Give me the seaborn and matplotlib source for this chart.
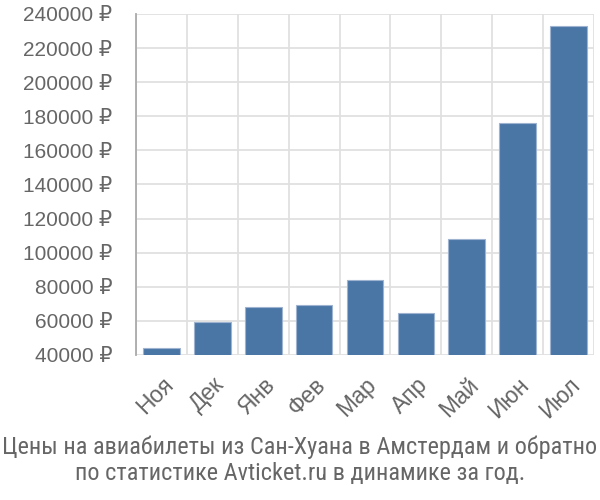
import matplotlib
matplotlib.use("Agg")
import matplotlib.pyplot as plt
from matplotlib import font_manager
from matplotlib.ticker import FixedLocator, FuncFormatter
import seaborn as sns
import pandas as pd

months = ["Ноя", "Дек", "Янв", "Фев", "Мар", "Апр", "Май", "Июн", "Июл"]
prices = [44300, 59200, 68300, 69100, 84000, 64500, 108000, 176300, 233100]
y_ticks = [40000, 60000, 80000, 100000, 120000, 140000, 160000, 180000, 200000, 220000, 240000]
title_lines = ["Цены на авиабилеты из Сан-Хуана в Амстердам и обратно",
               "по статистике Avticket.ru в динамике за год."]

names = {f.name for f in font_manager.fontManager.ttflist}
narrow = None
for cand in ["Liberation Sans Narrow", "Roboto Condensed", "Open Sans Condensed", "DejaVu Sans Condensed"]:
    if cand in names:
        narrow = cand
        break

sns.set_theme(style="white")
plt.rcParams["font.family"] = ["Liberation Sans", "DejaVu Sans"]

df = pd.DataFrame({"month": months, "price": prices})

fig = plt.figure(figsize=(6, 5), dpi=100)
ax = fig.add_axes([136/600, 1-355/500, (594-136)/600, (355-14)/500])

sns.barplot(data=df, x="month", y="price", color="#4a76a6", width=0.72,
            edgecolor="#9db3cf", linewidth=0.8, saturation=1, ax=ax, zorder=3)

ax.set_ylim(40000, 240000)
ax.set_xlim(-0.5, len(months) - 0.5)
ax.set_xlabel("")
ax.set_ylabel("")

grid_c = "#e0e0e0"
ax.yaxis.set_major_locator(FixedLocator(y_ticks))
ax.yaxis.set_major_formatter(FuncFormatter(lambda v, p: f"{int(v)} ₽"))
ax.xaxis.set_minor_locator(FixedLocator([i - 0.5 for i in range(len(months) + 1)]))
ax.grid(True, axis="y", which="major", color=grid_c, linewidth=1.3, zorder=0)
ax.grid(True, axis="x", which="minor", color=grid_c, linewidth=1.3, zorder=0)
ax.set_axisbelow(True)

for s in ["top", "right", "bottom"]:
    ax.spines[s].set_visible(False)
ax.spines["left"].set_color("#aaaaaa")
ax.spines["left"].set_linewidth(1.3)

ax.tick_params(axis="y", which="major", length=16, width=1.3, color=grid_c,
               labelsize=15, labelcolor="#666666", pad=1)
ax.tick_params(axis="x", which="major", length=0, labelsize=16.5,
               labelcolor="#666666", pad=13)
ax.tick_params(axis="x", which="minor", length=14, width=1.3, color=grid_c)
ax.xaxis.get_minor_ticks()[0].tick1line.set_color("#aaaaaa")
for lbl in ax.get_xticklabels():
    lbl.set_rotation(45)
    lbl.set_ha("right")
    lbl.set_va("top")
    lbl.set_rotation_mode("anchor")

tfam = [narrow, "Liberation Sans", "DejaVu Sans"] if narrow else ["Liberation Sans", "DejaVu Sans"]
tsize = 17.5 if narrow else 15.5
fig.text(0.5, 1-447/500, title_lines[0], ha="center", va="center",
         fontsize=tsize, color="#666666", family=tfam)
fig.text(0.5, 1-473/500, title_lines[1], ha="center", va="center",
         fontsize=tsize, color="#666666", family=tfam)

fig.savefig("out.png", dpi=100)
